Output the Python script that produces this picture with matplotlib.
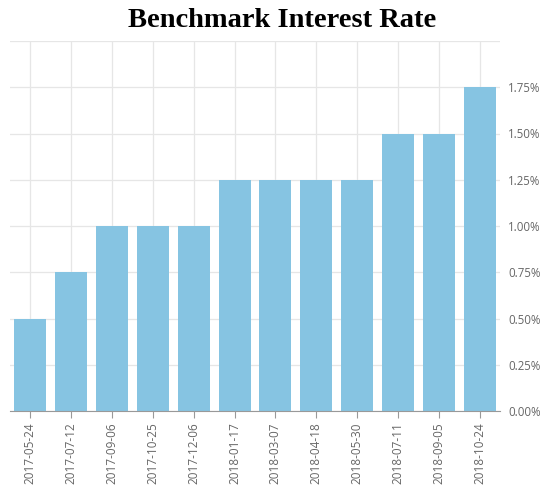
import matplotlib
matplotlib.use("Agg")
import matplotlib.pyplot as plt
from matplotlib.ticker import FuncFormatter

dates = ["2017-05-24", "2017-07-12", "2017-09-06", "2017-10-25", "2017-12-06",
         "2018-01-17", "2018-03-07", "2018-04-18", "2018-05-30", "2018-07-11",
         "2018-09-05", "2018-10-24"]
rates = [0.50, 0.75, 1.00, 1.00, 1.00, 1.25, 1.25, 1.25, 1.25, 1.50, 1.50, 1.75]
yticks = [0.0, 0.25, 0.5, 0.75, 1.0, 1.25, 1.5, 1.75, 2.0]

fig = plt.figure(figsize=(5.45, 4.87), dpi=100)
ax = fig.add_axes([10/545, 1-411/487, 490/545, 370/487])
x = list(range(len(dates)))
ax.bar(x, rates, width=0.78, color="#86C4E2", zorder=2)
ax.set_xlim(-0.5, len(dates) - 0.5)
ax.set_ylim(0, 2.0)
ax.set_yticks(yticks)
ax.yaxis.set_major_formatter(FuncFormatter(lambda v, p: "" if v >= 2.0 else f"{v:.2f}%"))
ax.yaxis.tick_right()
ax.tick_params(axis="y", length=0, pad=6, labelsize=8.3, labelcolor="#666666")
ax.set_xticks(x)
ax.set_xticklabels(dates, rotation=90, fontsize=8.5, color="#666666")
ax.tick_params(axis="x", length=5, color="#999999", pad=3)
ax.grid(True, color="#e6e6e6", linewidth=0.9, zorder=0)
for s in ["top", "left", "right"]:
    ax.spines[s].set_visible(False)
ax.spines["bottom"].set_color("#999999")
for lbl in ax.get_xticklabels() + ax.get_yticklabels():
    lbl.set_fontfamily("Open Sans")
fig.text(0.518, 0.957, "Benchmark Interest Rate", ha="center", va="center",
         fontsize=20.5, fontweight="bold", family="Liberation Serif")
fig.savefig("out.png", dpi=100)
